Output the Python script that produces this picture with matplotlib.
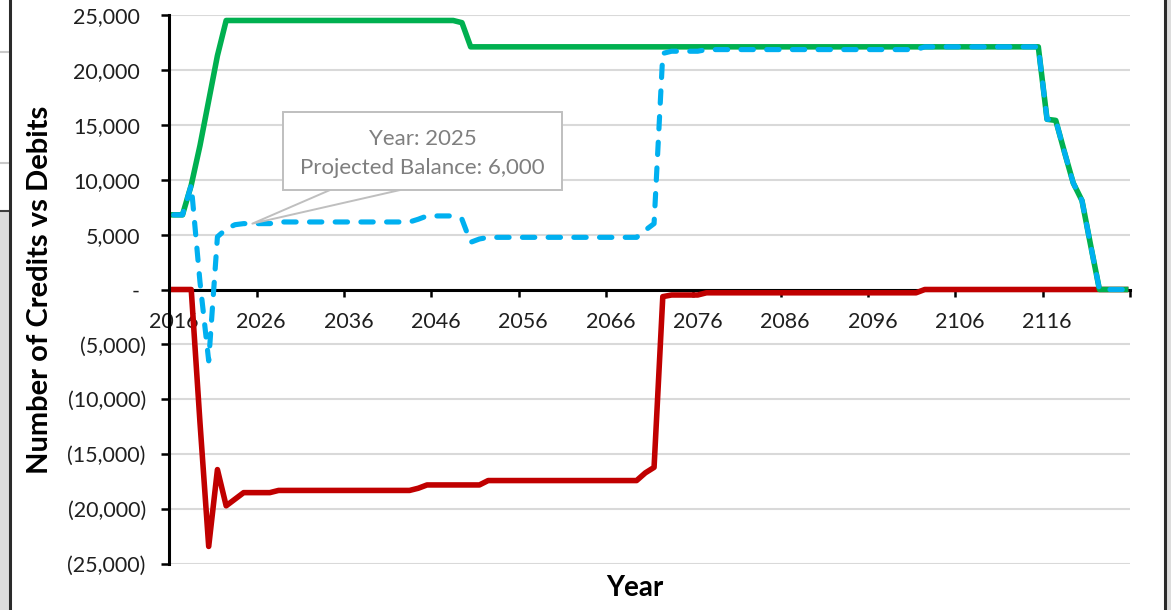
import numpy as np
import matplotlib
matplotlib.use("Agg")
import matplotlib.pyplot as plt
from matplotlib.patches import Rectangle, Polygon
from matplotlib.lines import Line2D

plt.rcParams['font.family'] = ['Lato', 'DejaVu Sans']

# data, one value per year
years = list(range(2016, 2126))

credits = ([6800, 6800, 9500, 13100, 17200, 21300]
           + [24500] * 27
           + [24300]
           + [22100] * 66
           + [15500, 15400, 12500, 9700, 8100, 4000]
           + [0] * 4)

debits = ([0, 0, 0, -12100, -23400, -16400, -19700, -19100]
          + [-18500] * 4
          + [-18300] * 16
          + [-18100]
          + [-17800] * 7
          + [-17400] * 18
          + [-16700, -16200]
          + [-650]
          + [-500] * 4
          + [-300] * 25
          + [0] * 24)

balance = ([6800, 6800, 9500, 700, -6500, 4800, 5500, 5900]
           + [6000] * 4
           + [6150] * 16
           + [6400]
           + [6700] * 4
           + [6400, 4300, 4600]
           + [4750] * 18
           + [5400, 6000]
           + [21500]
           + [21700] * 4
           + [21850] * 25
           + [22100] * 14
           + [15500, 15400, 12500, 9700, 8100, 4000]
           + [0] * 4)

y_ticks = list(range(-25000, 25001, 5000))
label_years = list(range(2016, 2117, 10))
callout_year = 2025

green = '#00b050'
red = '#c00000'
blue = '#00b0f0'

W, H = 1171, 610
fig = plt.figure(figsize=(W / 100, H / 100), dpi=100)
ax = fig.add_axes([169.4 / W, 46 / H, 960.6 / W, 549 / H])

ax.plot(years, debits, color=red, lw=4.0, solid_joinstyle='round', zorder=4)
ax.plot(years, credits, color=green, lw=4.0, solid_joinstyle='round', zorder=5)
ax.plot(years, balance, color=blue, lw=3.7, linestyle=(0, (2.4, 2.6)),
        dash_capstyle='round', dash_joinstyle='round', zorder=6)

ax.set_xlim(2015.5, 2125.5)
ax.set_ylim(-25000, 25000)

# axes look
for s in ['top', 'right']:
    ax.spines[s].set_visible(False)
ax.spines['left'].set_linewidth(2.2)
ax.spines['bottom'].set_position(('data', 0))
ax.spines['bottom'].set_linewidth(2.2)
ax.spines['bottom'].set_zorder(3)

ax.yaxis.grid(True, color='#d9d9d9', lw=1.5)
ax.set_axisbelow(True)

def fmt(v):
    if v > 0:
        return f"{v:,}"
    if v < 0:
        return f"({-v:,})"
    return "-"

ax.set_yticks(y_ticks, [fmt(v) for v in y_ticks])
ax.tick_params(axis='y', direction='out', length=6, width=1.8, pad=11,
               labelsize=15.5, labelcolor='#1f1f1f')
# positive numbers leave room for the ")" like the Excel format
for t, v in zip(ax.yaxis.get_major_ticks(), y_ticks):
    if v >= 0:
        t.label1.set_x(-0.006)

major = list(np.arange(2015.5, 2116, 10)) + [2125.5]
ax.set_xticks(major)
ax.set_xticklabels([])
ax.set_xticks(label_years, [str(y) for y in label_years], minor=True)
ax.tick_params(axis='x', which='major', direction='out', length=5, width=1.8)
ax.tick_params(axis='x', which='minor', length=0, pad=16, labelsize=15.5,
               labelcolor='#1f1f1f')

ax.set_ylabel('Number of Credits vs Debits', fontsize=21, fontweight='bold')
ax.yaxis.set_label_coords(-0.121, 0.5)
ax.text(0.4847, -0.0437, 'Year', transform=ax.transAxes, ha='center', va='center',
        fontsize=20, fontweight='bold')

# callout box for 2025
bx0, bx1 = 0.1183, 0.4087
by0, by1 = 0.6812, 0.8233
tip = ax.transLimits.transform((callout_year, balance[years.index(callout_year)]))
wx0, wx1 = 0.1672, 0.2401
ax.add_patch(Polygon([(wx0, by0), tuple(tip), (wx1, by0)], closed=True, transform=ax.transAxes,
                     facecolor='white', edgecolor='none', zorder=7))
ax.add_line(Line2D([wx0, tip[0], wx1], [by0, tip[1], by0], transform=ax.transAxes,
                   color='#bfbfbf', lw=1.4, zorder=8))
ax.add_patch(Rectangle((bx0, by0), bx1 - bx0, by1 - by0, transform=ax.transAxes,
                       facecolor='white', edgecolor='#bfbfbf', lw=1.4, zorder=8))
ax.text((bx0 + bx1) / 2, (by0 + by1) / 2 - 0.004,
        f"Year: {callout_year}\nProjected Balance: {balance[years.index(callout_year)]:,}",
        transform=ax.transAxes, ha='center', va='center', fontsize=16,
        color='#7f7f7f', linespacing=1.55, zorder=9)

# window frame bits around the screenshot
fig.add_artist(Rectangle((0, 0), 9 / W, (H - 212) / H, transform=fig.transFigure,
                         facecolor='#dcdcdc', edgecolor='none'))
for yy, c in [(52, '#c8c8c8'), (163, '#c8c8c8'), (211, '#404040')]:
    fig.add_artist(Line2D([0, 10 / W], [1 - yy / H] * 2, transform=fig.transFigure,
                          color=c, lw=1.5))
fig.add_artist(Line2D([10 / W] * 2, [0, 1], transform=fig.transFigure, color='#2b2b2b', lw=2.2))
fig.add_artist(Rectangle((1166.5 / W, 0), 5 / W, 1, transform=fig.transFigure,
                         facecolor='#dcdcdc', edgecolor='none'))
fig.add_artist(Line2D([1165 / W] * 2, [0, 1], transform=fig.transFigure, color='#2b2b2b', lw=2.2))

fig.savefig('out.png', dpi=100)
